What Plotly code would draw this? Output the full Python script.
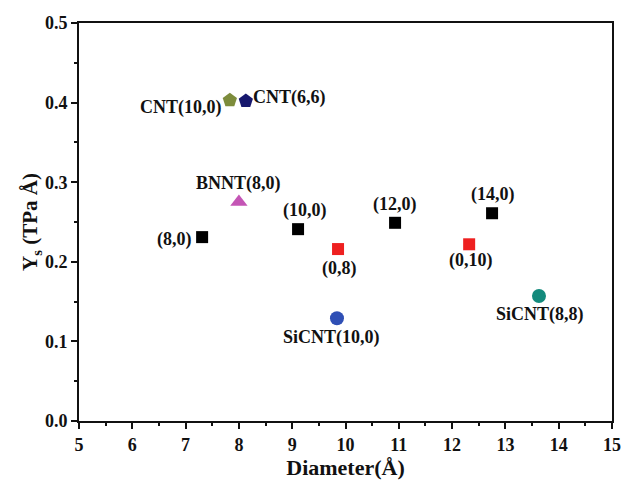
import plotly.graph_objects as go

# Data
names = ["(8,0)", "(10,0)", "(12,0)", "(14,0)", "(0,8)", "(0,10)",
         "SiCNT(10,0)", "SiCNT(8,8)", "BNNT(8,0)", "CNT(10,0)", "CNT(6,6)"]
diameter = [7.31, 9.11, 10.93, 12.75, 9.86, 12.32, 9.84, 13.63, 8.0, 7.83, 8.13]
ys = [0.231, 0.241, 0.249, 0.261, 0.216, 0.222, 0.129, 0.157, 0.275, 0.403, 0.402]

symbols = ["square", "square", "square", "square", "square", "square",
           "circle", "circle", "triangle-up", "pentagon", "pentagon"]
colors = ["#000000", "#000000", "#000000", "#000000", "#ee2020", "#ee2020",
          "#2f4fb5", "#138a7c", "#c455b5", "#7d8c3c", "#17186e"]
sizes = [12, 12, 12, 12, 12, 12, 14, 14, 15, 15, 15]

# label placement: (xanchor, yanchor, xshift, yshift)
placement = [
    ("right", "middle", -8, -2),
    ("center", "bottom", 7, 6),
    ("center", "bottom", 0, 6),
    ("center", "bottom", 1, 6),
    ("center", "top", 1, -7),
    ("center", "top", 2, -4),
    ("center", "top", -5, -7),
    ("center", "top", 1, -6),
    ("center", "bottom", 0, 6),
    ("right", "middle", -6, -7),
    ("left", "middle", 5, 4),
]

font_fam = "Liberation Serif, Times New Roman, serif"

fig = go.Figure()
for i in range(len(names)):
    fig.add_trace(go.Scatter(
        x=[diameter[i]], y=[ys[i]], mode="markers",
        marker=dict(symbol=symbols[i], color=colors[i], size=sizes[i], line=dict(width=0)),
        showlegend=False, hoverinfo="skip"))
    xa, ya, xs, yss = placement[i]
    fig.add_annotation(x=diameter[i], y=ys[i], text="<b>%s</b>" % names[i], showarrow=False,
                       xanchor=xa, yanchor=ya, xshift=xs, yshift=yss,
                       font=dict(family=font_fam, size=18, color="#111111"))

axis_common = dict(showgrid=False, zeroline=False, showline=True, linecolor="#111111",
                   linewidth=2, mirror=True, ticks="outside", ticklen=6, tickwidth=2,
                   tickcolor="#111111", automargin=False,
                   tickfont=dict(family=font_fam, size=18, color="#111111", weight="bold"))

fig.update_xaxes(range=[5, 15], dtick=1, tickformat="d",
                 minor=dict(ticks="outside", ticklen=3, tickwidth=2, dtick=0.5, tickcolor="#111111"),
                 title=dict(text="<b>Diameter(Å)</b>", font=dict(family=font_fam, size=22, color="#111111"),
                            standoff=4),
                 **axis_common)
fig.update_yaxes(range=[0, 0.5], dtick=0.1, tickformat=".1f",
                 minor=dict(ticks="outside", ticklen=3, tickwidth=2, dtick=0.05, tickcolor="#111111"),
                 title=dict(text="<b>Y<sub>s</sub> (TPa Å)</b>", font=dict(family=font_fam, size=21, color="#111111"),
                            standoff=1),
                 **axis_common)

fig.update_layout(width=621, height=482, margin=dict(l=79, r=9, t=23, b=61),
                  plot_bgcolor="white", paper_bgcolor="white")

fig.write_html("out.html")
